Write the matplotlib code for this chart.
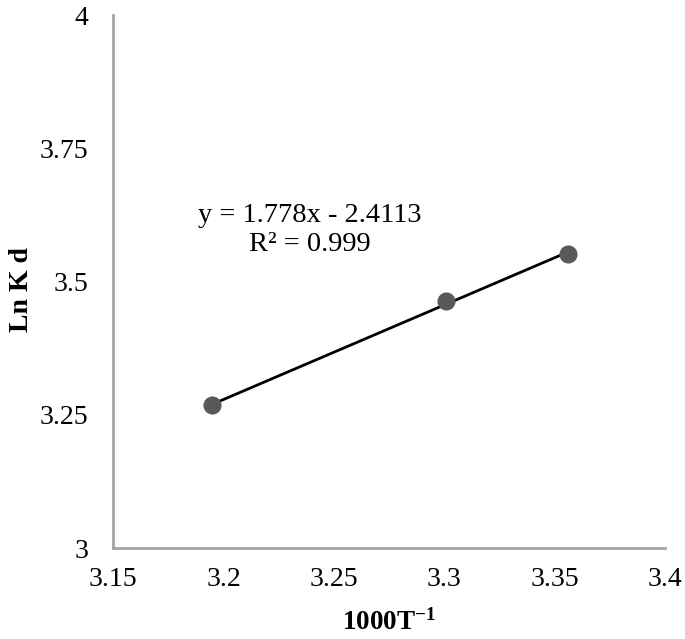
import numpy as np
import matplotlib.pyplot as plt

# data
inv_t = [3.195, 3.301, 3.356]
ln_kd = [3.268, 3.463, 3.552]
x_ticks = [3.15, 3.2, 3.25, 3.3, 3.35, 3.4]
y_ticks = [3, 3.25, 3.5, 3.75, 4]

plt.rcParams['font.family'] = ['Liberation Serif', 'DejaVu Serif']
plt.rcParams['mathtext.fontset'] = 'custom'
plt.rcParams['mathtext.rm'] = 'Liberation Serif'
plt.rcParams['mathtext.bf'] = 'Liberation Serif:bold'

fig = plt.figure(figsize=(6.85, 6.39), dpi=100)
ax = fig.add_axes([0.165, 0.1424, 0.806, 0.834])

# trendline (linear fit)
k, b = np.polyfit(inv_t, ln_kd, 1)
xl = np.array([min(inv_t), max(inv_t)])
ax.plot(xl, k * xl + b, color='black', lw=2, zorder=2)
ax.scatter(inv_t, ln_kd, s=170, color='#595959', zorder=3, linewidths=0)

ax.text(3.2392, 3.597, 'y = 1.778x - 2.4113\nR² = 0.999', ha='center', va='center',
        multialignment='center', fontsize=20.5, linespacing=1.2)

ax.set_xlim(3.15, 3.4)
ax.set_ylim(3, 4)
ax.set_xticks(x_ticks)
ax.set_xticklabels(['3.15', '3.2', '3.25', '3.3', '3.35', '3.4'])
ax.set_yticks(y_ticks)
ax.set_yticklabels(['3', '3.25', '3.5', '3.75', '4'])
ax.tick_params(length=0, labelsize=20)
ax.tick_params(axis='x', pad=14)
ax.tick_params(axis='y', pad=18)

for s in ['top', 'right']:
    ax.spines[s].set_visible(False)
for s in ['left', 'bottom']:
    ax.spines[s].set_color('#a6a6a6')
    ax.spines[s].set_linewidth(2)

# axis titles
fig.text(389 / 685, 1 - 622 / 639, '$\\mathbf{1000T^{-1}}$', fontsize=19.5,
         ha='center', va='center')
fig.text(22 / 685, 1 - 290 / 639, 'Ln K d', fontsize=20, fontweight='bold',
         rotation=90, ha='center', va='center')

fig.savefig('out.png', dpi=100)
